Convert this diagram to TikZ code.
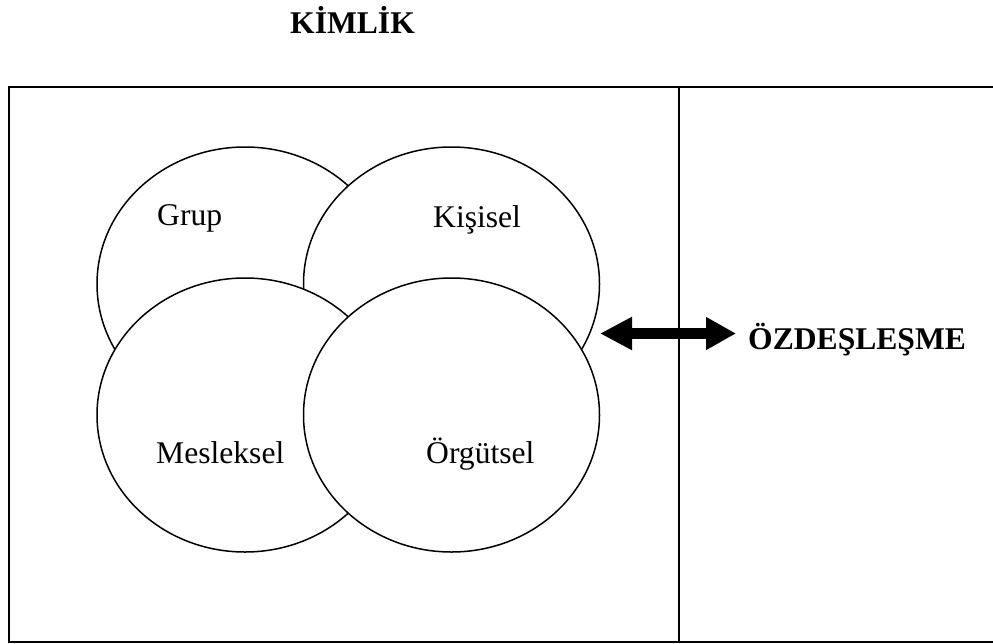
\documentclass[tikz,border=0pt]{standalone}
\usepackage{fontspec}
\setmainfont{Liberation Serif}
\usetikzlibrary{shapes.geometric,arrows.meta}

\tikzset{
  frame/.style={line width=2pt, line cap=rect},
  venn/.style={draw, ellipse, fill=white, line width=1.5pt, inner sep=0pt,
               minimum width=296pt, minimum height=274pt},
  lbl/.style={anchor=base west, inner sep=0pt, font=\fontsize{31.6}{38}\selectfont},
  head/.style={lbl, font=\fontsize{31.6}{38}\selectfont\bfseries},
  twoway/.style={line width=11pt,
    {Triangle[length=32pt,width=31pt]}-{Triangle[length=30pt,width=31pt]}}
}

\begin{document}
\begin{tikzpicture}[x=1pt,y=-1pt]
  \useasboundingbox (0,0) rectangle (993,643);
  \fill[white] (0,0) rectangle (993,643);

  % heading
  \node[head] (title) at (290,33) {KİMLİK};

  % outer frame, open on the right, with the divider
  \draw[frame] (993,87) -- (8.5,87) -- (8.5,641.5) -- (993,641.5);
  \draw[line width=1.5pt] (679,87) -- (679,641.5);

  % four overlapping identity fields, later ones painted over earlier ones
  \node[venn] (grup) at (245,284) {};
  \node[venn] (kisisel) at (451.5,284) {};
  \node[venn] (mesleksel) at (245,415) {};
  \node[venn] (orgutsel) at (451.5,415) {};

  \node[lbl] (tgrup) at (157,225) {Grup};
  \node[lbl] (tkis) at (433,227) {Kişisel};
  \node[lbl] (tmes) at (156,463) {Mesleksel};
  \node[lbl] (torg) at (426,463) {Örgütsel};

  % identification link
  \node[head] (ozd) at (748,349) {ÖZDEŞLEŞME};
  \coordinate (arrL) at (600,333.5);
  \coordinate (arrR) at (736,333.5);
  \draw[twoway] (arrL) -- (arrR);
\end{tikzpicture}
\end{document}
